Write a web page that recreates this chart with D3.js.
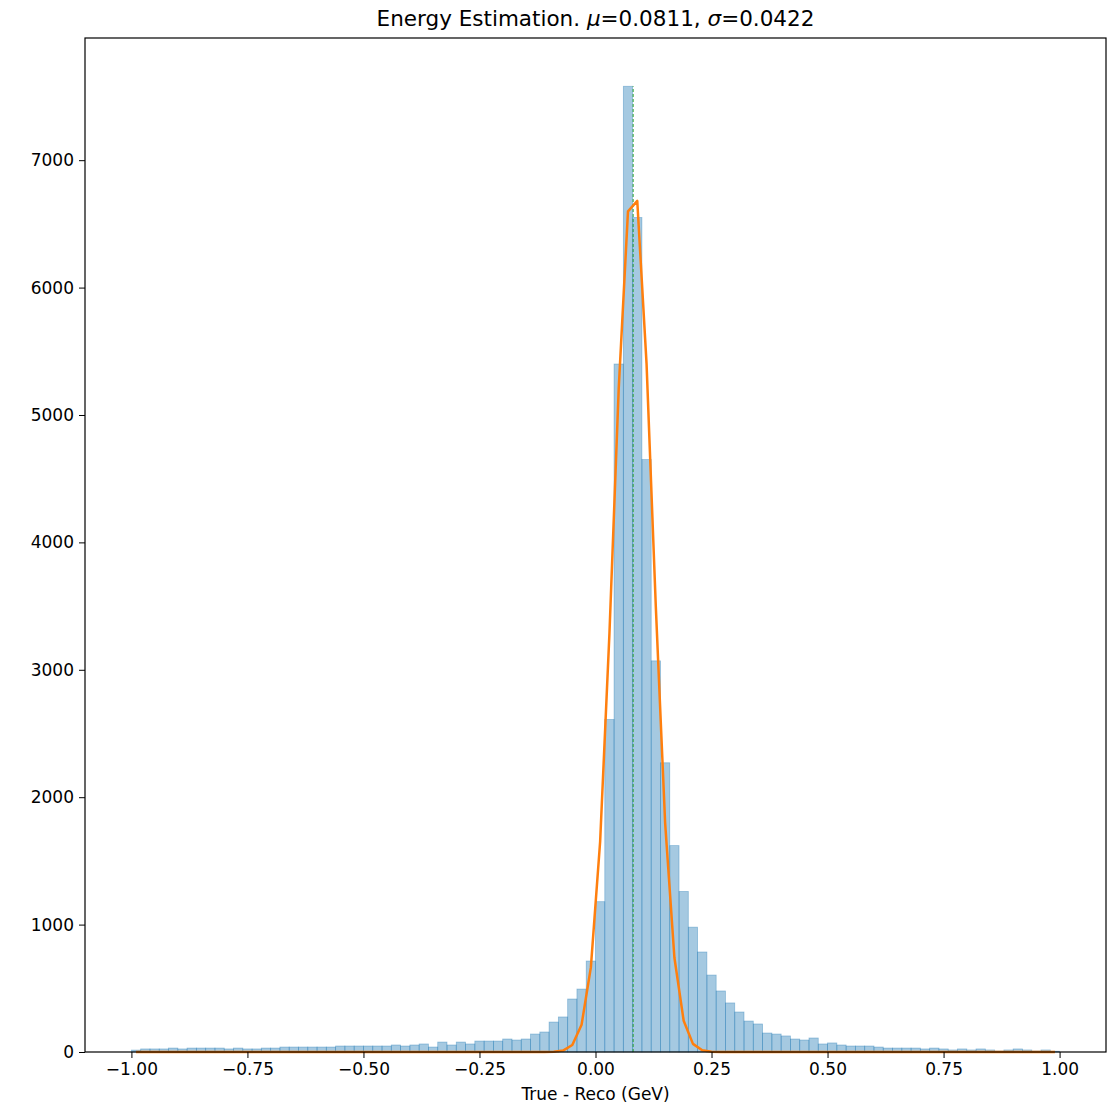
<!DOCTYPE html>
<html>
<head>
<meta charset="utf-8">
<script src="https://cdn.jsdelivr.net/npm/d3@7"></script>
<style>
  body { margin: 0; background: #fff; }
  svg text { font-family: "DejaVu Sans", sans-serif; fill: #000; }
</style>
</head>
<body>
<svg id="chart" width="1117" height="1106"></svg>
<script>
// histogram: 100 bins of width 0.02 from -1 to 1 (counts)
var binStart = -1.0, binWidth = 0.02;
var counts = [
    15, 24, 24, 24, 31, 24, 31, 31, 31, 31,
    24, 31, 24, 24, 31, 31, 39, 39, 39, 39,
    39, 39, 47, 47, 47, 47, 47, 47, 55, 47,
    55, 63, 39, 78, 55, 78, 63, 86, 86, 86,
    102, 94, 102, 141, 157, 235, 275, 416, 494, 714,
    1180, 2610, 5400, 7580, 6550, 4650, 3070, 2270, 1620, 1260,
    980, 785, 604, 479, 385, 314, 243, 220, 149, 141,
    126, 102, 94, 110, 63, 71, 55, 47, 47, 47,
    39, 31, 31, 31, 31, 24, 31, 24, 16, 24,
    16, 24, 16, 8, 16, 24, 16, 8, 16, 6
];

// fitted curve at bin centres, zero elsewhere
var fitX = [-0.13, -0.11, -0.09, -0.07, -0.05, -0.03, -0.01, 0.01, 0.03, 0.05,
            0.07, 0.09, 0.11, 0.13, 0.15, 0.17, 0.19, 0.21, 0.23, 0.25, 0.27];
var fitY = [0, 0.2, 2, 11, 55, 214, 664, 1652, 3282, 5205,
            6598, 6680, 5403, 3492, 1801, 742, 245, 64, 14, 2, 0];

var mu = 0.0811, sigma = 0.0422;
var xTicks = [-1.0, -0.75, -0.5, -0.25, 0.0, 0.25, 0.5, 0.75, 1.0];
var yTicks = [0, 1000, 2000, 3000, 4000, 5000, 6000, 7000];

var svg = d3.select("#chart"),
    margin = {top: 38, right: 11, bottom: 54, left: 85},
    width = 1117 - margin.left - margin.right,
    height = 1106 - margin.top - margin.bottom;

var ymax = d3.max(counts);
var x = d3.scaleLinear().domain([-1.1, 1.1]).range([0, width]),
    y = d3.scaleLinear().domain([0, ymax * 1.05]).range([height, 0]);

var g = svg.append("g")
    .attr("transform", "translate(" + margin.left + "," + margin.top + ")");

// bars
g.selectAll(".bar")
    .data(counts)
    .enter()
    .append("rect")
    .attr("class", "bar")
    .attr("x", function (d, i) { return x(binStart + i * binWidth); })
    .attr("y", function (d) { return y(d); })
    .attr("width", function (d, i) { return x(binStart + (i + 1) * binWidth) - x(binStart + i * binWidth); })
    .attr("height", function (d) { return y(0) - y(d); })
    .attr("fill", "#1f77b4")
    .attr("fill-opacity", 0.4)
    .attr("stroke", "#1f77b4")
    .attr("stroke-opacity", 0.4)
    .attr("stroke-width", 0.8);

// mean line
g.append("line")
    .attr("x1", x(mu)).attr("x2", x(mu))
    .attr("y1", y(0)).attr("y2", y(ymax))
    .attr("stroke", "#2ca02c")
    .attr("stroke-width", 1)
    .attr("stroke-dasharray", "3,2");

// gaussian fit, evaluated at every bin centre
var curve = counts.map(function (c, i) {
    var c0 = binStart + (i + 0.5) * binWidth;
    var k = fitX.findIndex(function (v) { return Math.abs(v - c0) < 1e-6; });
    return [c0, k >= 0 ? fitY[k] : 0];
});
var line = d3.line()
    .x(function (d) { return x(d[0]); })
    .y(function (d) { return y(d[1]); });

g.append("path")
    .datum(curve)
    .attr("d", line)
    .attr("fill", "none")
    .attr("stroke", "#ff7f0e")
    .attr("stroke-width", 2.5)
    .attr("stroke-linejoin", "round");

// axes
var xAxis = g.append("g")
    .attr("transform", "translate(0," + height + ")")
    .call(d3.axisBottom(x).tickValues(xTicks).tickFormat(function (d) {
        return d3.format(".2f")(d).replace("-", "\u2212");
    }).tickSize(6).tickPadding(5));
var yAxis = g.append("g")
    .call(d3.axisLeft(y).tickValues(yTicks).tickFormat(d3.format("d")).tickSize(6).tickPadding(5));

[xAxis, yAxis].forEach(function (a) {
    a.select(".domain").remove();
    a.selectAll("line").attr("stroke", "#000").attr("stroke-width", 1);
    a.selectAll("text").attr("font-size", "17px").attr("fill", "#000");
});

// frame
g.append("rect")
    .attr("x", 0).attr("y", 0)
    .attr("width", width).attr("height", height)
    .attr("fill", "none")
    .attr("stroke", "#000")
    .attr("stroke-width", 1.2);

// labels
g.append("text")
    .attr("x", width / 2)
    .attr("y", height + 48)
    .attr("text-anchor", "middle")
    .attr("font-size", "17px")
    .text("True - Reco (GeV)");

var title = svg.append("text")
    .attr("x", margin.left + width / 2)
    .attr("y", 26)
    .attr("text-anchor", "middle")
    .attr("font-size", "21.5px");
title.append("tspan").text("Energy Estimation. ");
title.append("tspan").attr("font-style", "italic").text("\u03bc");
title.append("tspan").text("=0.0811, ");
title.append("tspan").attr("font-style", "italic").text("\u03c3");
title.append("tspan").text("=0.0422");
</script>
</body>
</html>
